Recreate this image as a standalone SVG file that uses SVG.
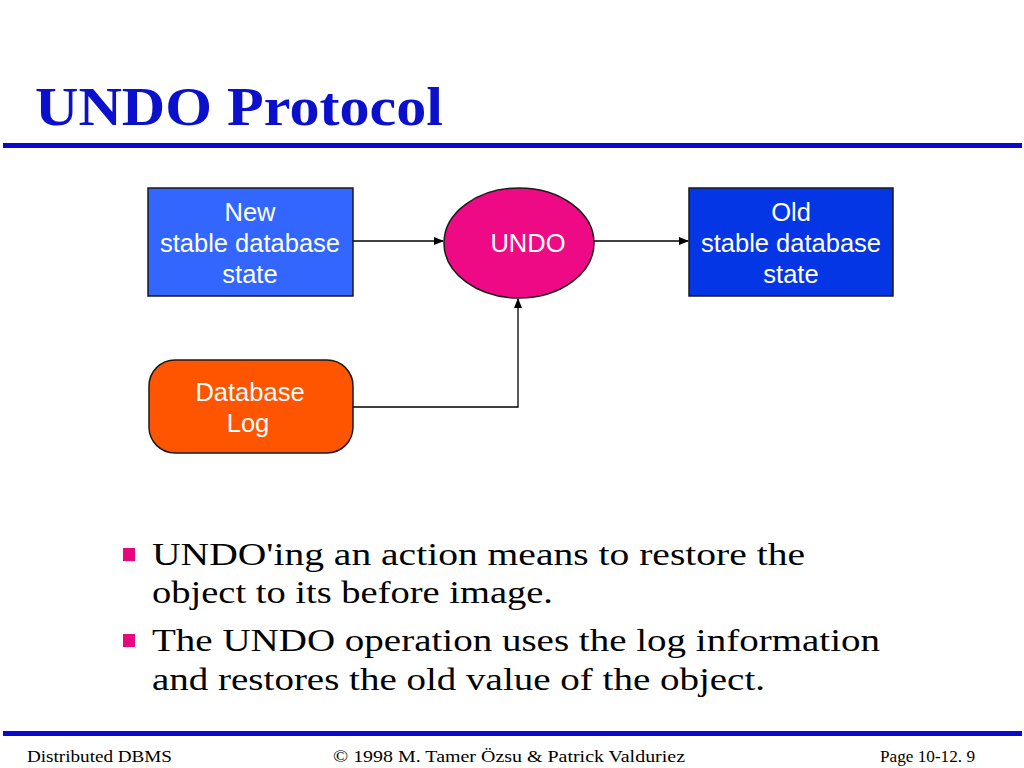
<svg xmlns="http://www.w3.org/2000/svg" width="1024" height="768" viewBox="0 0 1024 768">
<defs>
<marker id="arr" markerWidth="10" markerHeight="8" refX="9" refY="4" orient="auto" markerUnits="userSpaceOnUse">
<path d="M0,0 L10,4 L0,8 z" fill="#000"/>
</marker>
<style>
.node{stroke:#1a1a1a;stroke-width:1.5}
.lbl{font-family:"Liberation Sans",Arial,sans-serif;font-size:25.5px;fill:#fff;text-anchor:middle}
.conn{fill:none;stroke:#000;stroke-width:1.3;marker-end:url(#arr)}
.body{font-family:"Liberation Serif","Times New Roman",serif;font-size:32px;fill:#000}
.foot{font-family:"Liberation Serif","Times New Roman",serif;font-size:17px;fill:#000}
.bullet{fill:#E8087E}
</style>
</defs>
<rect width="1024" height="768" fill="#fff"/>
<text x="35" y="125" font-family="Liberation Serif,'Times New Roman',serif" font-weight="bold" font-size="55" fill="#0A10CC" textLength="408" lengthAdjust="spacingAndGlyphs">UNDO Protocol</text>
<rect x="3" y="143" width="1019" height="5" fill="#0A0ACC"/>

<g id="new-state">
<rect class="node" x="148" y="188" width="205" height="108" fill="#3366FF"/>
<text class="lbl" x="250" y="221">New</text>
<text class="lbl" x="250" y="252">stable database</text>
<text class="lbl" x="250" y="283">state</text>
</g>
<g id="undo">
<ellipse class="node" cx="519" cy="243" rx="75" ry="55" fill="#EE0A84"/>
<text class="lbl" x="528" y="252">UNDO</text>
</g>
<g id="old-state">
<rect class="node" x="689" y="188" width="204" height="108" fill="#0536E6"/>
<text class="lbl" x="791" y="221">Old</text>
<text class="lbl" x="791" y="252">stable database</text>
<text class="lbl" x="791" y="283">state</text>
</g>
<g id="database-log">
<rect class="node" x="149" y="360" width="204" height="93" rx="26" fill="#FF5500"/>
<text class="lbl" x="250" y="401">Database</text>
<text class="lbl" x="248" y="432">Log</text>
</g>
<g id="connectors">
<line class="conn" x1="353" y1="241" x2="443" y2="241"/>
<line class="conn" x1="594" y1="241" x2="688" y2="241"/>
<polyline class="conn" points="353,407 518,407 518,299"/>
</g>

<rect class="bullet" x="123" y="548" width="12" height="13"/>
<text class="body" x="152" y="565" textLength="653" lengthAdjust="spacingAndGlyphs">UNDO'ing an action means to restore the</text>
<text class="body" x="152" y="603" textLength="401" lengthAdjust="spacingAndGlyphs">object to its before image.</text>
<rect class="bullet" x="123" y="634" width="12" height="13"/>
<text class="body" x="152" y="651" textLength="728" lengthAdjust="spacingAndGlyphs">The UNDO operation uses the log information</text>
<text class="body" x="152" y="690" textLength="613" lengthAdjust="spacingAndGlyphs">and restores the old value of the object.</text>

<rect x="3" y="731" width="1019" height="5" fill="#0A0ACC"/>
<text class="foot" x="27" y="762" textLength="145" lengthAdjust="spacingAndGlyphs">Distributed DBMS</text>
<text class="foot" x="333" y="762" textLength="352" lengthAdjust="spacingAndGlyphs">© 1998 M. Tamer Özsu &amp; Patrick Valduriez</text>
<text class="foot" x="880" y="762" textLength="95" lengthAdjust="spacingAndGlyphs">Page 10-12. 9</text>
</svg>
